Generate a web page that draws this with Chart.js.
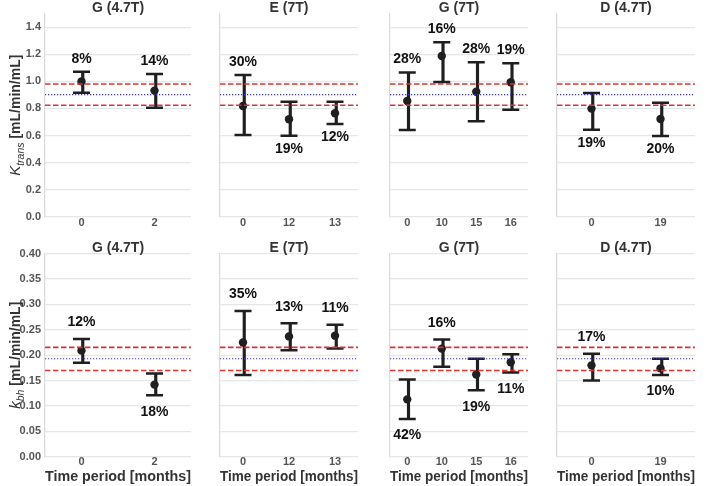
<!DOCTYPE html>
<html>
<head>
<meta charset="utf-8">
<script src="https://cdn.jsdelivr.net/npm/chart.js@4/dist/chart.umd.min.js"></script>
<style>
  body { margin: 0; background: #fff; }
  #wrap { position: relative; width: 708px; height: 486px; overflow: hidden; }
  #wrap canvas { position: absolute; }
</style>
</head>
<body>
<div id="wrap"></div>
<script>
// panels (same for both rows)
const titles = ["G (4.7T)", "E (7T)", "G (7T)", "D (4.7T)"];
const months = [["0", "2"], ["0", "12", "13"], ["0", "10", "15", "16"], ["0", "19"]];

// Ktrans (top row)
const ktransMean = [[1.0, 0.932], [0.818, 0.72, 0.765], [0.855, 1.188, 0.924, 0.994], [0.799, 0.722]];
const ktransLow = [[0.917, 0.806], [0.604, 0.599, 0.685], [0.641, 0.996, 0.705, 0.791], [0.643, 0.597]];
const ktransHigh = [[1.072, 1.055], [1.048, 0.85, 0.85], [1.065, 1.289, 1.142, 1.134], [0.915, 0.843]];
const ktransPct = [["8%", "14%"], ["30%", "19%", "12%"], ["28%", "16%", "28%", "19%"], ["19%", "20%"]];
const ktransSide = [["up", "up"], ["up", "down", "down"], ["up", "up", "up", "up"], ["down", "down"]];
const ktransRef = [0.824, 0.902, 0.981]; // lower limit, mean, upper limit
const ktransTicks = [0.0, 0.2, 0.4, 0.6, 0.8, 1.0, 1.2, 1.4];
const ktransMax = 1.5;

// kbh (bottom row)
const kbhMean = [[0.209, 0.142], [0.225, 0.237, 0.2385], [0.113, 0.213, 0.162, 0.186], [0.18, 0.174]];
const kbhLow = [[0.185, 0.121], [0.161, 0.21, 0.213], [0.0745, 0.177, 0.131, 0.166], [0.15, 0.161]];
const kbhHigh = [[0.232, 0.164], [0.287, 0.263, 0.26], [0.152, 0.231, 0.193, 0.202], [0.203, 0.193]];
const kbhPct = [["12%", "18%"], ["35%", "13%", "11%"], ["42%", "16%", "19%", "11%"], ["17%", "10%"]];
const kbhSide = [["up", "down"], ["up", "up", "up"], ["down", "up", "down", "down"], ["up", "down"]];
const kbhRef = [0.17, 0.193, 0.2154];
const kbhTicks = [0.0, 0.05, 0.1, 0.15, 0.2, 0.25, 0.3, 0.35, 0.4];
const kbhMax = 0.4;

const FONT = "'Liberation Sans', Arial, sans-serif";
const INK = "#1f1f1f";
const RED = "#dd3333";
const BLUE = "#3535d8";

const plotLeft = [45, 212, 382, 549];
const plotWidth = 157;

const rows = [
  { mean: ktransMean, low: ktransLow, high: ktransHigh, pct: ktransPct, side: ktransSide,
    ref: ktransRef, ticks: ktransTicks, max: ktransMax, dec: 1, sym: "K", sub: "trans",
    top: 0, height: 232, padTop: 13.75, xHeight: 15.3, tickPad: 1, gap: 13, xTitle: false },
  { mean: kbhMean, low: kbhLow, high: kbhHigh, pct: kbhPct, side: kbhSide,
    ref: kbhRef, ticks: kbhTicks, max: kbhMax, dec: 2, sym: "k", sub: "bh",
    top: 240, height: 246, padTop: 13.7, xHeight: 29.3, tickPad: 0, gap: 16.5, xTitle: true },
];

function drawYTitle(ctx, x, yMid, sym, sub) {
  const fSym = "italic 15px " + FONT;
  const fSub = "italic 10.5px " + FONT;
  const fUnit = "bold 14px " + FONT;
  const unit = " [mL/min/mL]";
  ctx.save();
  ctx.font = fSym; const w1 = ctx.measureText(sym).width;
  ctx.font = fSub; const w2 = ctx.measureText(sub).width;
  ctx.font = fUnit; const w3 = ctx.measureText(unit).width;
  ctx.translate(x, yMid);
  ctx.rotate(-Math.PI / 2);
  ctx.fillStyle = "#333";
  ctx.textBaseline = "alphabetic";
  ctx.textAlign = "left";
  let cx = -(w1 + w2 + w3) / 2;
  ctx.font = fSym; ctx.fillText(sym, cx, 0); cx += w1;
  ctx.font = fSub; ctx.fillText(sub, cx, 3.5); cx += w2;
  ctx.font = fUnit; ctx.fillText(unit, cx, 0);
  ctx.restore();
}

function makePanel(r, c) {
  const row = rows[r];
  const lead = c === 0 ? plotLeft[0] : 3;
  const canvas = document.createElement("canvas");
  canvas.width = lead + plotWidth;
  canvas.height = row.height;
  canvas.style.left = (plotLeft[c] - lead) + "px";
  canvas.style.top = row.top + "px";
  document.getElementById("wrap").appendChild(canvas);

  const refLine = (v, color, dash, width) => ({
    type: "line", xAxisID: "xr",
    data: [{ x: 0, y: v }, { x: 1, y: v }],
    borderColor: color, borderDash: dash, borderWidth: width, pointRadius: 0,
  });
  const caps = (vals) => ({
    type: "line", data: vals, showLine: false,
    pointStyle: "line", pointRadius: 8.5, pointBorderWidth: 2.5, borderColor: INK,
  });

  const panelText = {
    id: "panelText",
    afterDatasetsDraw(chart) {
      const { ctx, chartArea } = chart;
      ctx.save();
      ctx.textAlign = "center";
      ctx.textBaseline = "middle";
      ctx.fillStyle = "#333";
      ctx.font = "bold 14px " + FONT;
      ctx.fillText(titles[c], (chartArea.left + chartArea.right) / 2, chartArea.top - 6);

      // percentage labels next to caps
      const hiMeta = chart.getDatasetMeta(5);
      const loMeta = chart.getDatasetMeta(4);
      ctx.fillStyle = "#111";
      row.pct[c].forEach((txt, i) => {
        const up = row.side[c][i] === "up";
        const el = (up ? hiMeta : loMeta).data[i];
        ctx.fillText(txt, el.x, up ? el.y - row.gap : el.y + row.gap);
      });
      ctx.restore();
      if (c === 0) drawYTitle(ctx, 20, (chartArea.top + chartArea.bottom) / 2, row.sym, row.sub);
    },
  };

  new Chart(canvas, {
    type: "bar",
    data: {
      labels: months[c],
      datasets: [
        refLine(row.ref[2], RED, [5.5, 2.5], 1.6),
        refLine(row.ref[0], RED, [5.5, 2.5], 1.6),
        refLine(row.ref[1], BLUE, [1.2, 1.8], 1.2),
        {
          type: "line", data: row.mean[c], showLine: false,
          pointRadius: 4.2, pointBorderWidth: 0, pointBackgroundColor: INK, borderColor: INK,
        },
        caps(row.low[c]),
        caps(row.high[c]),
        {
          type: "bar", data: row.low[c].map((lo, i) => [lo, row.high[c][i]]),
          backgroundColor: INK, barThickness: 2.5, borderWidth: 0,
        },
      ],
    },
    options: {
      responsive: false,
      animation: false,
      events: [],
      layout: { padding: { top: row.padTop, left: 0, right: 0, bottom: 0 } },
      plugins: { legend: { display: false }, tooltip: { enabled: false }, title: { display: false } },
      scales: {
        x: {
          type: "category",
          offset: true,
          grid: { display: false, drawTicks: false },
          border: { display: false },
          ticks: { color: "#555", padding: row.tickPad, font: { family: FONT, size: 11, weight: "bold", lineHeight: 1 } },
          title: {
            display: row.xTitle, text: "Time period [months]", color: "#333",
            padding: 0, font: { family: FONT, size: 15, weight: "bold", lineHeight: 1.2 },
          },
          afterFit: (s) => { s.height = row.xHeight; },
        },
        xr: { type: "linear", min: 0, max: 1, offset: false, display: false, grid: { offset: false } },
        y: {
          min: 0,
          max: row.max,
          afterBuildTicks: (s) => { s.ticks = row.ticks.map((v) => ({ value: v })); },
          grid: { color: "#e6e6e6", lineWidth: 1.3, drawTicks: false },
          border: { display: true, color: "#dcdcdc", width: 1.3 },
          ticks: {
            display: c === 0, color: "#555", padding: 4,
            font: { family: FONT, size: 11, weight: "bold" },
            callback: (v) => Number(v).toFixed(row.dec),
          },
          afterFit: (s) => { s.width = lead; },
        },
      },
    },
    plugins: [panelText],
  });
}

for (let r = 0; r < 2; r++) {
  for (let c = 0; c < 4; c++) makePanel(r, c);
}
</script>
</body>
</html>
